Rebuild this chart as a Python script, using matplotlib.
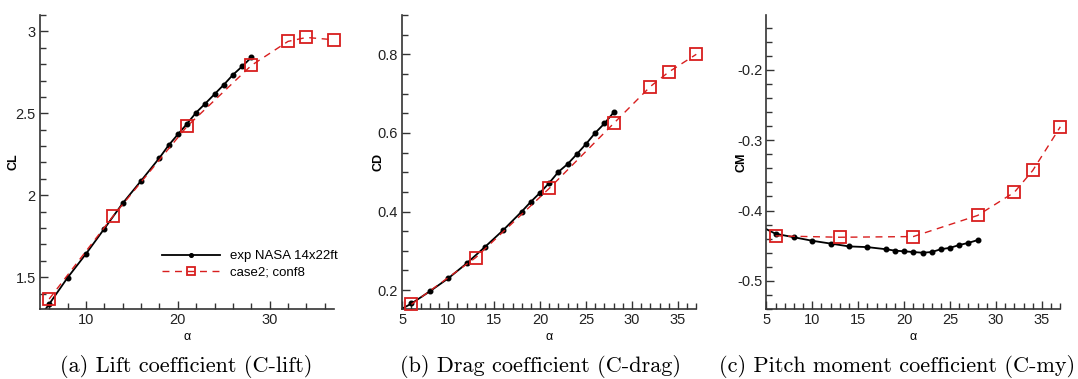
import numpy as np
import matplotlib
matplotlib.use('Agg')
import matplotlib.pyplot as plt
from matplotlib.ticker import MultipleLocator, FuncFormatter

# experiment (NASA 14x22ft)
alpha_exp = [4, 6, 8, 10, 12, 14, 16, 18, 19, 20, 21, 22, 23, 24, 25, 26, 27, 28]
cl_exp = [1.18, 1.336, 1.497, 1.642, 1.796, 1.951, 2.088, 2.228, 2.305, 2.371, 2.436,
          2.505, 2.560, 2.617, 2.674, 2.735, 2.786, 2.841]
cd_exp = [0.140, 0.166, 0.197, 0.230, 0.268, 0.310, 0.353, 0.400, 0.425, 0.448, 0.473,
          0.501, 0.521, 0.546, 0.572, 0.600, 0.624, 0.652]
cm_exp = [-0.420, -0.433, -0.438, -0.443, -0.447, -0.451, -0.452, -0.455, -0.457, -0.458,
          -0.459, -0.460, -0.459, -0.455, -0.453, -0.449, -0.446, -0.442]

# CFD case2; conf8
alpha_cfd = [6, 13, 21, 28, 32, 34, 37]
cl_cfd = [1.367, 1.876, 2.420, 2.792, 2.939, 2.963, 2.949]
cd_cfd = [0.164, 0.283, 0.459, 0.624, 0.718, 0.755, 0.800]
cm_cfd = [-0.436, -0.438, -0.437, -0.407, -0.374, -0.343, -0.281]

captions = ['(a) Lift coefficient (C-lift)', '(b) Drag coefficient (C-drag)',
            '(c) Pitch moment coefficient (C-my)']
ylabels = ['CL', 'CD', 'CM']
red = '#d81e1e'
axcol = '#333333'

plt.rcParams['font.family'] = ['Liberation Sans', 'DejaVu Sans']

fig = plt.figure(figsize=(10.78, 3.79), dpi=100)
lefts = [0.0371, 0.3732, 0.7109]
w = 0.2727
bot = 0.1847
h = 0.7757
cap_x = [0.173, 0.5014, 0.8321]
ylab_x = [-0.07, -0.06, -0.063]

settings = [
    (cl_exp, cl_cfd, (1.306, 3.10), 0.5, 0.1, 10, 2),
    (cd_exp, cd_cfd, (0.152, 0.90), 0.2, 0.05, 5, 1),
    (cm_exp, cm_cfd, (-0.54, -0.122), 0.1, 0.02, 5, 1),
]

fmt = FuncFormatter(lambda v, p: '%g' % round(v, 6))

for i, (ye, yc, ylim, ymaj, ymin, xmaj, xmin) in enumerate(settings):
    ax = fig.add_axes([lefts[i], bot, w, h])
    l1, = ax.plot(alpha_exp, ye, '-', color='black', lw=1.3, marker='o', ms=3.3,
                  label='exp NASA 14x22ft')
    l2, = ax.plot(alpha_cfd, yc, '--', color=red, lw=1.0, dashes=(5, 4), marker='s',
                  ms=8, mfc='none', mec=red, mew=1.3, label='case2; conf8',
                  clip_on=False, zorder=3)
    ax.set_xlim(5, 37)
    ax.set_ylim(*ylim)
    ax.xaxis.set_major_locator(MultipleLocator(xmaj))
    ax.xaxis.set_minor_locator(MultipleLocator(xmin))
    ax.yaxis.set_major_locator(MultipleLocator(ymaj))
    ax.yaxis.set_minor_locator(MultipleLocator(ymin))
    ax.xaxis.set_major_formatter(fmt)
    ax.yaxis.set_major_formatter(fmt)
    ax.spines['top'].set_visible(False)
    ax.spines['right'].set_visible(False)
    for s in ['left', 'bottom']:
        ax.spines[s].set_color(axcol)
        ax.spines[s].set_linewidth(1.2)
    ax.tick_params(which='both', direction='in', colors=axcol, labelsize=10.5,
                   labelcolor='#222222')
    ax.tick_params(which='major', length=6, width=1, pad=3)
    ax.tick_params(which='minor', length=4, width=1)
    ax.set_xlabel('α', fontsize=9, labelpad=3)
    ax.set_ylabel(ylabels[i], fontsize=9, fontweight='bold')
    ax.yaxis.set_label_coords(ylab_x[i], 0.5)
    fig.text(cap_x[i], 0.032, captions[i], ha='center', va='center',
             fontsize=16, family=['cmr10', 'DejaVu Serif'])
    if i == 0:
        ax.legend(handles=[l1, l2], loc='lower right', bbox_to_anchor=(1.054, 0.063),
                  frameon=False, fontsize=9.5, handlelength=4.4, handletextpad=0.8,
                  markerscale=0.8, labelspacing=0.3)

fig.savefig('out.png', dpi=100)
